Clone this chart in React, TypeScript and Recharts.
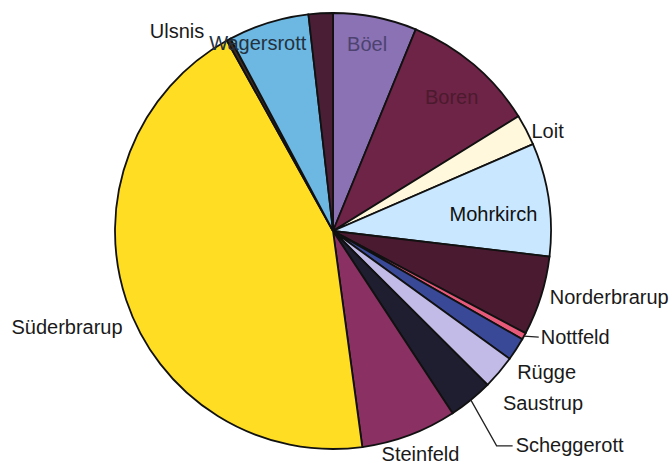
import React from 'react';
import { PieChart, Pie, Cell } from 'recharts';

const names = [
  'Böel', 'Boren', 'Loit', 'Mohrkirch', 'Norderbrarup', 'Nottfeld', 'Rügge',
  'Saustrup', 'Scheggerott', 'Steinfeld', 'Süderbrarup', 'Ulsnis', 'Wagersrott', '',
];
const values = [6.2, 10.0, 2.3, 8.4, 5.9, 0.5, 1.7, 2.5, 3.3, 7.1, 44.1, 0.3, 6.0, 1.8];
const colors = [
  '#8a72b4', '#6e2446', '#fff8dc', '#c9e8ff', '#4a1a30', '#e85a7a', '#3a4898',
  '#c2bbe8', '#1e1e30', '#8a3062', '#ffdd22', '#3a2a20', '#6cb8e2', '#4a1f36',
];

type Place = {
  rf: number;
  da: number;
  anchor: 'start' | 'middle' | 'end';
  color: string;
  leader?: 'straight' | 'elbow';
};

const placement: Place[] = [
  { rf: 0.87, da: -0.8, anchor: 'middle', color: '#4d4270' },
  { rf: 0.82, da: 1.3, anchor: 'middle', color: '#4c1a2e' },
  { rf: 1.02, da: 0.8, anchor: 'start', color: '#1a1a1a' },
  { rf: 0.74, da: 2.4, anchor: 'middle', color: '#111111' },
  { rf: 1.04, da: -0.3, anchor: 'start', color: '#1a1a1a' },
  { rf: 1.07, da: -1.8, anchor: 'start', color: '#1a1a1a', leader: 'straight' },
  { rf: 1.065, da: 4.7, anchor: 'start', color: '#1a1a1a' },
  { rf: 1.11, da: 5.0, anchor: 'start', color: '#1a1a1a' },
  { rf: 1.29, da: -1.3, anchor: 'start', color: '#1a1a1a', leader: 'elbow' },
  { rf: 1.1, da: -0.9, anchor: 'middle', color: '#1a1a1a' },
  { rf: 1.06, da: -6.0, anchor: 'end', color: '#1a1a1a' },
  { rf: 1.09, da: -4.2, anchor: 'end', color: '#1a1a1a' },
  { rf: 0.93, da: -4.5, anchor: 'middle', color: '#24323f' },
  { rf: 1, da: 0, anchor: 'middle', color: '#000' },
];

const data = names.map((name, i) => ({ name, value: values[i] }));

const RAD = Math.PI / 180;

function renderLabel(props: any) {
  const { cx, cy, midAngle, outerRadius, index } = props;
  const p = placement[index];
  const name = names[index];
  if (!p || !name) return null;
  const mid = 90 - midAngle;
  const theta = mid + p.da;
  const r = outerRadius * p.rf;
  const x = cx + r * Math.sin(theta * RAD);
  const y = cy - r * Math.cos(theta * RAD);
  const ex = cx + outerRadius * Math.sin(mid * RAD);
  const ey = cy - outerRadius * Math.cos(mid * RAD);
  let leader: React.ReactNode = null;
  if (p.leader === 'straight') {
    leader = <polyline points={`${ex},${ey} ${x - 2},${y}`} fill="none" stroke="#222" strokeWidth={1.3} />;
  } else if (p.leader === 'elbow') {
    leader = (
      <polyline
        points={`${ex},${ey} ${x - 19},${y + 1} ${x - 3},${y + 1}`}
        fill="none"
        stroke="#222"
        strokeWidth={1.3}
      />
    );
  }
  return (
    <g key={`lbl-${index}`}>
      {leader}
      <text
        x={x}
        y={y}
        textAnchor={p.anchor}
        dominantBaseline="central"
        fill={p.color}
        fontSize={20}
        fontFamily="'Liberation Sans', Arial, sans-serif"
      >
        {name}
      </text>
    </g>
  );
}

export default function App() {
  return (
    <div style={{ position: 'absolute', left: 0, top: 0, width: 672, height: 468, background: '#fff' }}>
      <PieChart width={672} height={468} margin={{ top: 0, right: 0, bottom: 0, left: 0 }}>
        <Pie
          data={data}
          dataKey="value"
          nameKey="name"
          cx={333}
          cy={231}
          outerRadius={218}
          startAngle={90}
          endAngle={-270}
          stroke="#111"
          strokeWidth={1.8}
          label={renderLabel}
          labelLine={false}
          isAnimationActive={false}
        >
          {data.map((d, i) => (
            <Cell key={d.name + i} fill={colors[i]} />
          ))}
        </Pie>
      </PieChart>
    </div>
  );
}
